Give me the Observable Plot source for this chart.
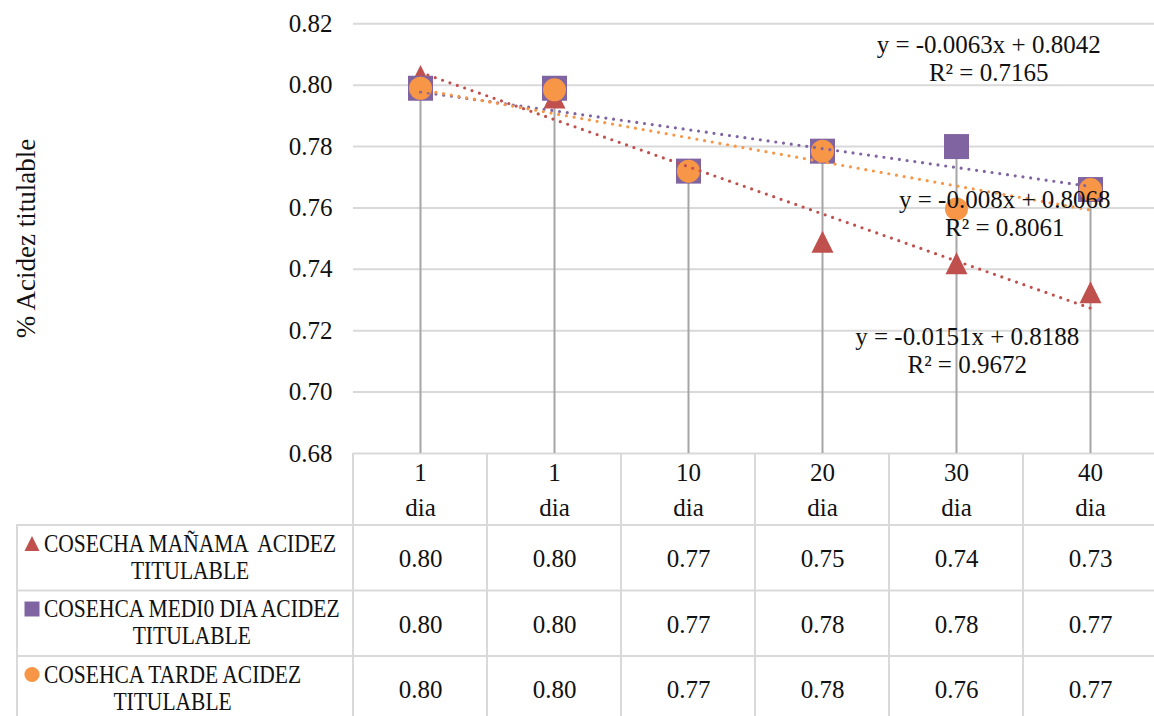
<!DOCTYPE html>
<html><head><meta charset="utf-8">
<script src="https://cdn.jsdelivr.net/npm/d3@7"></script>
<script src="https://cdn.jsdelivr.net/npm/@observablehq/plot@0.6"></script>
<style>
html,body{margin:0;padding:0;background:#fff;}
#chart svg{display:block;}
</style></head><body><div id="chart"></div>
<script>
// ---------- data ----------
const categories = ["1 dia", "1 dia", "10 dia", "20 dia", "30 dia", "40 dia"];
const seriesLabels = [
  ["COSECHA MAÑAMA  ACIDEZ", "TITULABLE"],
  ["COSEHCA MEDI0 DIA ACIDEZ", "TITULABLE"],
  ["COSEHCA TARDE ACIDEZ", "TITULABLE"]
];
const manana   = [0.803, 0.796, 0.772, 0.749, 0.742, 0.7325];
const medioDia = [0.799, 0.799, 0.772, 0.7785, 0.780, 0.766];
const tarde    = [0.799, 0.7985, 0.772, 0.7785, 0.7597, 0.766];
const yTicks = [0.68, 0.70, 0.72, 0.74, 0.76, 0.78, 0.80, 0.82];
const trendEquations = ["y = -0.0151x + 0.8188", "y = -0.0063x + 0.8042", "y = -0.008x + 0.8068"];
const trendR2 = ["R² = 0.9672", "R² = 0.7165", "R² = 0.8061"];
const yTitle = "% Acidez titulable";

(function () {
// ---------- styling / layout ----------
const FONT = "Liberation Serif";
const TXT = "#111";
const GRID = "#d9d9d9";
const triangleSym = {draw(ctx, size) {const s = Math.sqrt(size); ctx.moveTo(0, -s / 2); ctx.lineTo(s / 2, s / 2); ctx.lineTo(-s / 2, s / 2); ctx.closePath();}};
const squareSym = {draw(ctx, size) {const s = Math.sqrt(size); ctx.rect(-s / 2, -s / 2, s, s);}};
const sideToR = (s) => s / Math.sqrt(Math.PI);
const series = [
  {values: manana,   color: "#c0504d", symbol: triangleSym, r: sideToR(22), eqPos: [5.08, 0.7137]},
  {values: medioDia, color: "#8064a2", symbol: squareSym,   r: sideToR(25), eqPos: [5.24, 0.8089]},
  {values: tarde,    color: "#f79646", symbol: "circle",    r: 11.5,        eqPos: [5.36, 0.7582]}
];
const W = 1154, H = 716;
const pts = series.map(s => s.values.map((v, i) => ({i: i + 1, v})));
const maxAt = categories.map((c, i) => d3.max(series, s => s.values[i]));
const fmt = d3.format(".2f");

const marks = [
  Plot.gridY(yTicks, {stroke: GRID, strokeWidth: 2, strokeOpacity: 1}),
  Plot.ruleX(categories, {x: (d, i) => i + 1, y1: 0.68, y2: (d, i) => maxAt[i], stroke: "#a6a6a6", strokeWidth: 2})
];
series.forEach((s, k) => {
  marks.push(Plot.dot(pts[k], {x: "i", y: "v", symbol: s.symbol, r: s.r, fill: s.color, stroke: "none"}));
});
series.forEach((s, k) => {
  marks.push(Plot.linearRegressionY(pts[k], {x: "i", y: "v", ci: 0, stroke: s.color, strokeWidth: 3.2,
    strokeDasharray: "0 7.8", strokeLinecap: "round"}));
});
series.forEach((s, k) => {
  marks.push(Plot.text([trendEquations[k] + "\n" + trendR2[k]], {x: () => s.eqPos[0], y: () => s.eqPos[1],
    textAnchor: "middle", lineAnchor: "middle", lineHeight: 1.12, fontSize: 25, fill: TXT}));
});
marks.push(Plot.axisY(yTicks, {tickSize: 0, tickPadding: 21, tickFormat: ".2f", fontSize: 25, label: null, fill: TXT}));
marks.push(Plot.text([yTitle], {frameAnchor: "left", dx: -327, rotate: -90, textAnchor: "middle", lineAnchor: "middle", fontSize: 27, fill: TXT}));
// table header
marks.push(Plot.text(categories, {x: (d, i) => i + 1, text: d => d.split(" ")[0], frameAnchor: "bottom", dy: 19, lineAnchor: "middle", fontSize: 25, fill: TXT}));
marks.push(Plot.text(categories, {x: (d, i) => i + 1, text: d => d.split(" ")[1], frameAnchor: "bottom", dy: 54, lineAnchor: "middle", fontSize: 25, fill: TXT}));
// table values
series.forEach((s, k) => {
  marks.push(Plot.text(s.values, {x: (d, i) => i + 1, text: d => fmt(d), frameAnchor: "bottom", dy: 105.5 + 65.5 * k, lineAnchor: "middle", fontSize: 25, fill: TXT}));
});

const plot = Plot.plot({
  width: W, height: H,
  marginLeft: 353, marginRight: 0, marginTop: 23, marginBottom: 263,
  style: {fontFamily: FONT, fontSize: "25px", background: "#fff", color: TXT},
  x: {type: "linear", domain: [0.5, 6.5], range: [353, 1157], axis: null},
  y: {domain: [0.68, 0.82], range: [453, 23.3], axis: null},
  marks
});
document.getElementById("chart").appendChild(plot);

// ---------- data table grid and series legend column ----------
const xs = plot.scale("x");
const svg = d3.select(plot);
const g = svg.append("g").attr("aria-label", "data table");
const tableTop = 453, rowB = [525, 590.5, 656, 721.5];
const bounds = d3.range(0, 7).map(i => xs.apply(i + 0.5));
bounds.forEach(x => g.append("line").attr("x1", x).attr("x2", x).attr("y1", tableTop).attr("y2", H + 10)
  .attr("stroke", GRID).attr("stroke-width", 2));
g.append("line").attr("x1", 17).attr("x2", 17).attr("y1", rowB[0]).attr("y2", H + 10).attr("stroke", GRID).attr("stroke-width", 2);
rowB.forEach(y => g.append("line").attr("x1", 16).attr("x2", W).attr("y1", y).attr("y2", y).attr("stroke", GRID).attr("stroke-width", 2));

const legendG = svg.append("g").attr("aria-label", "series labels")
  .attr("font-family", FONT).attr("font-size", 25).attr("fill", TXT);
series.forEach((s, k) => {
  const y1 = 543.5 + 65.5 * k, y2 = y1 + 26.8;
  const sym = s.symbol === "circle" ? d3.symbolCircle : s.symbol;
  legendG.append("path").attr("transform", `translate(32,${y1})`)
    .attr("d", d3.symbol(sym, s.symbol === "circle" ? Math.PI * 7.6 * 7.6 : 15 * 15)()).attr("fill", s.color);
  const t1 = legendG.append("text").attr("x", 44).attr("y", y1).attr("dy", "0.33em")
    .attr("text-anchor", "start").style("white-space", "pre").text(seriesLabels[k][0]);
  const L1 = t1.node().getComputedTextLength() * 0.86;
  t1.attr("textLength", L1).attr("lengthAdjust", "spacingAndGlyphs");
  const t2 = legendG.append("text").attr("x", 44 + L1 / 2).attr("y", y2).attr("dy", "0.33em")
    .attr("text-anchor", "middle").text(seriesLabels[k][1]);
  const L2 = t2.node().getComputedTextLength() * 0.86;
  t2.attr("textLength", L2).attr("lengthAdjust", "spacingAndGlyphs");
});
})();
</script></body></html>
